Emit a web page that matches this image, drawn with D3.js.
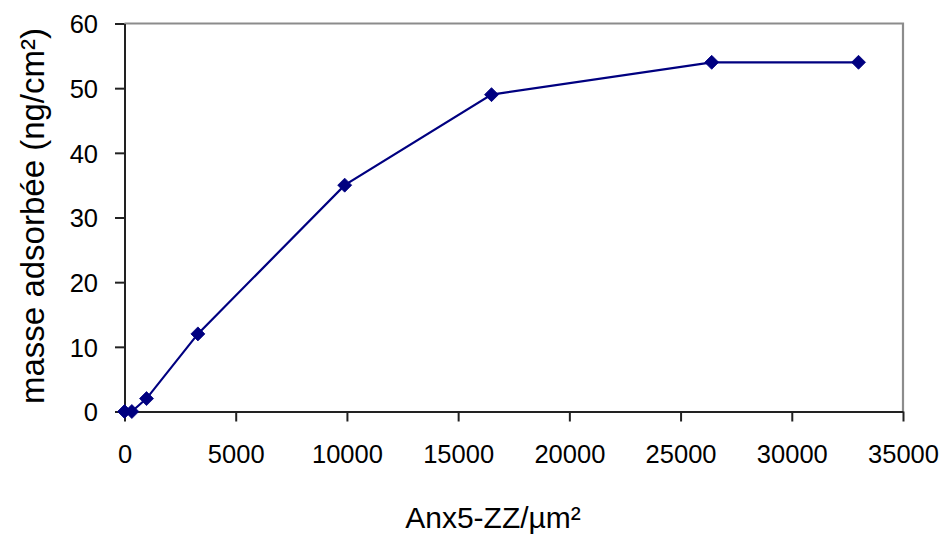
<!DOCTYPE html>
<html>
<head>
<meta charset="utf-8">
<script src="https://cdn.jsdelivr.net/npm/d3@7"></script>
<style>
  html, body { margin: 0; padding: 0; background: #fff; }
  svg { display: block; font-family: "Liberation Sans", Arial, sans-serif; }
</style>
</head>
<body>
<svg id="chart" width="944" height="534"></svg>
<script>
// Adsorbed mass as a function of Anx5-ZZ surface density
const surfaceDensity = [0, 330, 990, 3300, 9900, 16500, 26400, 33000];
const adsorbedMass   = [0, 0, 2, 12, 35, 49, 54, 54];
const xTicks = [0, 5000, 10000, 15000, 20000, 25000, 30000, 35000];
const yTicks = [0, 10, 20, 30, 40, 50, 60];
const xTitle = "Anx5-ZZ/µm²";
const yTitle = "masse adsorbée (ng/cm²)";

const svg = d3.select("#chart");
const plot = { left: 124.5, right: 903, top: 23.5, bottom: 411.5 };

const x = d3.scaleLinear().domain([0, 35000]).range([plot.left, plot.right]);
const y = d3.scaleLinear().domain([0, 60]).range([plot.bottom, plot.top]);

// Frame: grey top and right edges
svg.append("path")
  .attr("d", `M${plot.left},${plot.top}H${plot.right}V${plot.bottom}`)
  .attr("fill", "none")
  .attr("stroke", "#8c8c8c")
  .attr("stroke-width", 2.2);

// Axes
const xAxis = svg.append("g")
  .attr("transform", `translate(0,${plot.bottom})`)
  .call(d3.axisBottom(x).tickValues(xTicks).tickFormat(d3.format("d"))
    .tickSizeInner(10).tickSizeOuter(0).tickPadding(23));
const yAxis = svg.append("g")
  .attr("transform", `translate(${plot.left},0)`)
  .call(d3.axisLeft(y).tickValues(yTicks).tickFormat(d3.format("d"))
    .tickSizeInner(9.5).tickSizeOuter(0).tickPadding(17));

[xAxis, yAxis].forEach(g => {
  g.select(".domain").attr("stroke", "#222").attr("stroke-width", 2);
  g.selectAll(".tick line").attr("stroke", "#222").attr("stroke-width", 2);
  g.selectAll(".tick text").attr("fill", "#000").attr("font-size", 25.5);
});
xAxis.selectAll(".tick text").attr("dy", "0.71em");
yAxis.selectAll(".tick text").attr("dy", "0.36em");

// Series line
const pts = surfaceDensity.map((d, i) => [d, adsorbedMass[i]]);
svg.append("path")
  .datum(pts)
  .attr("fill", "none")
  .attr("stroke", "#000080")
  .attr("stroke-width", 2.2)
  .attr("d", d3.line().x(d => x(d[0])).y(d => y(d[1])));

// Diamond markers
svg.append("g").selectAll("path")
  .data(pts)
  .join("path")
  .attr("transform", d => `translate(${x(d[0])},${y(d[1])})`)
  .attr("d", "M0,-7L7,0L0,7L-7,0Z")
  .attr("fill", "#000080")
  .attr("stroke", "#000080")
  .attr("stroke-width", 0.8);

// Axis titles
svg.append("text")
  .attr("x", 493).attr("y", 528)
  .attr("text-anchor", "middle")
  .attr("font-size", 30)
  .attr("fill", "#000")
  .text(xTitle);

svg.append("text")
  .attr("transform", "translate(44,216) rotate(-90)")
  .attr("text-anchor", "middle")
  .attr("font-size", 33)
  .attr("fill", "#000")
  .text(yTitle);
</script>
</body>
</html>
